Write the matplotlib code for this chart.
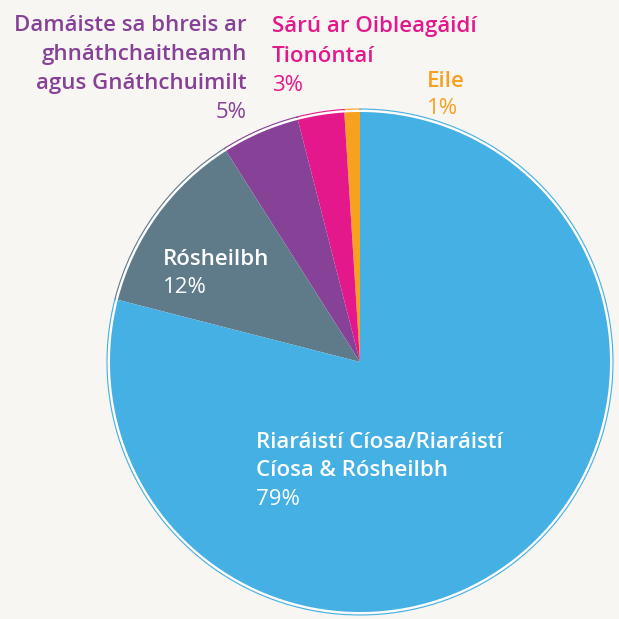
import matplotlib.pyplot as plt

# slices, counter-clockwise from 12 o'clock
labels = [["Eile"],
          ["Sárú ar Oibleagáidí", "Tionóntaí"],
          ["Damáiste sa bhreis ar", "ghnáthchaitheamh", "agus Gnáthchuimilt"],
          ["Rósheilbh"],
          ["Riaráistí Cíosa/Riaráistí", "Cíosa & Rósheilbh"]]
values = [1, 3, 5, 12, 79]
colors = ["#f7a11f", "#e5188b", "#874196", "#5f7b8a", "#45b0e3"]

W = 619
bg = "#f7f6f3"
fig = plt.figure(figsize=(W / 100, W / 100), dpi=100, facecolor=bg)
ax = fig.add_axes([0, 0, 1, 1])

cx, cy, r = 360, W - 362, 250
# sketchy outline look: thin coloured ring, white gap, then the filled pie
outer, _ = ax.pie(values, colors=colors, startangle=90, counterclock=True,
                  center=(cx, cy), radius=r + 3, frame=True,
                  wedgeprops=dict(fill=False, linewidth=0.8))
for w, c in zip(outer, colors):
    w.set_edgecolor(c)
ax.pie(values, colors=colors, startangle=90, counterclock=True,
       center=(cx, cy), radius=r + 1, frame=True,
       wedgeprops=dict(fill=False, linewidth=1.2, edgecolor="white"))
ax.pie(values, colors=colors, startangle=90, counterclock=True,
       center=(cx, cy), radius=r, frame=True,
       wedgeprops=dict(linewidth=0))
ax.set_xlim(0, W)
ax.set_ylim(0, W)
ax.set_aspect("equal")
ax.axis("off")

font = "Open Sans"
fs = 16


def label(i, x, baselines, ha, color):
    lines = labels[i] + [f"{values[i]}%"]
    for k, (txt, b) in enumerate(zip(lines, baselines)):
        ax.text(x, W - b, txt, color=color, ha=ha, va="baseline",
                family=font, fontsize=fs,
                fontweight="normal" if k == len(lines) - 1 else "semibold")


label(2, 247, [31, 60, 89, 118], "right", colors[2])
label(1, 272, [32, 62, 91], "left", colors[1])
label(0, 427, [87, 114], "left", colors[0])
label(3, 163, [265, 293], "left", "white")
label(4, 256, [448, 476, 505], "left", "white")

fig.savefig("out.png", dpi=100, facecolor=bg)
